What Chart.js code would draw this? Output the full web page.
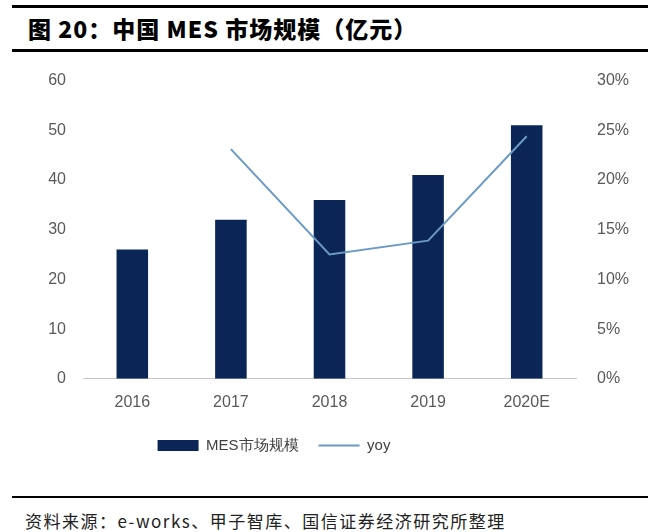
<!DOCTYPE html>
<html>
<head>
<meta charset="utf-8">
<script src="https://cdn.jsdelivr.net/npm/chart.js@4"></script>
<style>
  body { margin: 0; background: #fff; width: 660px; height: 532px; position: relative; overflow: hidden; }
  .rule { position: absolute; left: 12px; width: 636px; background: #000; }
  #title { position: absolute; left: 28px; top: 11px; font: 900 23px "Noto Sans CJK SC", sans-serif; letter-spacing: 1px; color: #000; white-space: nowrap; }
  #source { position: absolute; left: 25px; top: 508px; font: 17px "Noto Sans CJK SC", sans-serif; letter-spacing: 1.5px; color: #222; white-space: nowrap; }
  #wrap { position: absolute; left: 0; top: 50px; width: 660px; height: 427px; }
</style>
</head>
<body>
<div class="rule" style="top:5px;height:3px"></div>
<div id="title">图 20：中国 MES 市场规模（亿元）</div>
<div class="rule" style="top:49px;height:3px"></div>
<div id="wrap"><canvas id="c"></canvas></div>
<div class="rule" style="top:496px;height:2px"></div>
<div id="source">资料来源：e-works、甲子智库、国信证券经济研究所整理</div>
<script>
const years = ['2016', '2017', '2018', '2019', '2020E'];
const marketSize = [26, 32, 36, 41, 51];
const yoy = [null, 0.231, 0.125, 0.139, 0.244];

const tickFont = { family: 'Liberation Sans, Arial, sans-serif', size: 16 };

// the legend in the source sits left of centre
const shiftLegend = {
  id: 'shiftLegend',
  afterLayout(chart) {
    chart.legend.left -= 56;
    chart.legend.right -= 56;
  }
};

new Chart(document.getElementById('c'), {
  data: {
    labels: years,
    datasets: [
      {
        type: 'line',
        label: 'yoy',
        data: yoy,
        yAxisID: 'y1',
        borderColor: '#6b9bc5',
        backgroundColor: '#6b9bc5',
        borderWidth: 2,
        pointRadius: 0,
        pointStyle: 'line',
        tension: 0,
        order: 0
      },
      {
        type: 'bar',
        label: 'MES市场规模',
        data: marketSize,
        yAxisID: 'y',
        backgroundColor: '#0b2656',
        barPercentage: 0.32,
        categoryPercentage: 1,
        pointStyle: 'rect',
        order: 1
      }
    ]
  },
  options: {
    responsive: true,
    maintainAspectRatio: false,
    animation: false,
    layout: { padding: { top: 10, left: 0, right: 0, bottom: 14 } },
    plugins: {
      tooltip: { enabled: false },
      legend: {
        position: 'bottom',
        reverse: true,
        labels: {
          usePointStyle: true,
          pointStyleWidth: 41,
          boxHeight: 11,
          color: '#404040',
          font: { family: 'Liberation Sans, Arial, sans-serif', size: 15 },
          padding: 20
        }
      }
    },
    scales: {
      x: {
        grid: { display: false },
        border: { display: true, color: '#c8c8c8', width: 1 },
        ticks: { color: '#595959', font: tickFont, padding: 6 }
      },
      y: {
        position: 'left',
        min: 0, max: 60,
        grid: { display: false, drawTicks: false },
        border: { display: false },
        ticks: { stepSize: 10, color: '#595959', font: tickFont, padding: 17 },
        afterFit: s => { s.width = 83; }
      },
      y1: {
        position: 'right',
        min: 0, max: 0.3,
        grid: { display: false, drawTicks: false },
        border: { display: false },
        ticks: {
          stepSize: 0.05, color: '#595959', font: tickFont, padding: 21,
          callback: v => Math.round(v * 100) + '%'
        },
        afterFit: s => { s.width = 84; }
      }
    }
  },
  plugins: [shiftLegend]
});
</script>
</body>
</html>
